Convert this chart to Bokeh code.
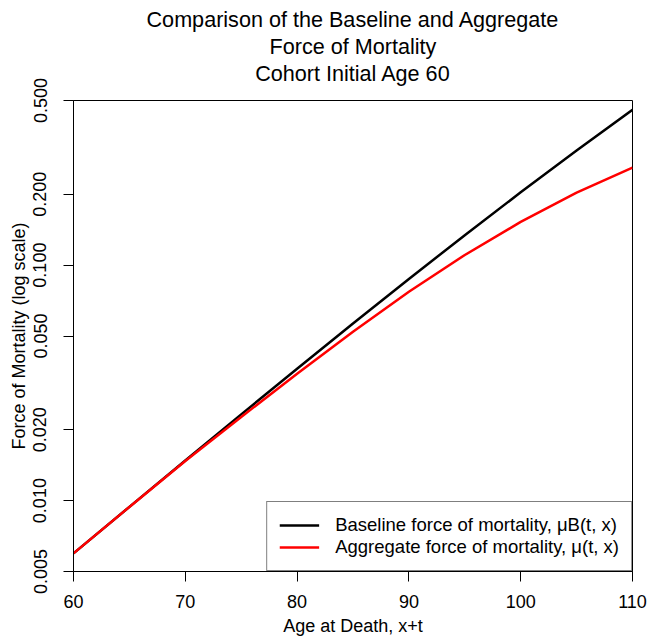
from bokeh.plotting import figure
from bokeh.models import Range1d, FixedTicker, CustomJSTickFormatter, Title, Legend, LegendItem
from bokeh.embed import file_html
from bokeh.resources import INLINE

ages = [60, 65, 70, 75, 80, 85, 90, 95, 100, 105, 110]
baseline = [0.00597, 0.009406, 0.01481, 0.02323, 0.03631, 0.05649, 0.08735, 0.1340, 0.2037, 0.3067, 0.4564]
aggregate = [0.00597, 0.009401, 0.01474, 0.02265, 0.03459, 0.05212, 0.07709, 0.1104, 0.1525, 0.2030, 0.2592]
x_ticks = [60, 70, 80, 90, 100, 110]
y_ticks = [0.005, 0.01, 0.02, 0.05, 0.1, 0.2, 0.5]
title_lines = ["Comparison of the Baseline and Aggregate", "Force of Mortality", "Cohort Initial Age 60"]
legend_labels = ["Baseline force of mortality, \u03bcB(t, x)", "Aggregate force of mortality, \u03bc(t, x)"]

FONT = "Liberation Sans"

p = figure(width=648, height=639, y_axis_type="log", output_backend="svg",
           toolbar_location=None, x_range=Range1d(60, 110), y_range=Range1d(0.005, 0.5),
           min_border_left=73, min_border_right=16, min_border_top=100, min_border_bottom=68,
           title=None)
p.background_fill_color = "white"
p.border_fill_color = "white"
p.outline_line_color = "black"
p.outline_line_width = 1
p.xgrid.visible = False
p.ygrid.visible = False

# spacer closest to the frame, then title lines outward
p.add_layout(Title(text=" ", text_font_size="1px", standoff=12), "above")
for line in reversed(title_lines):
    p.add_layout(Title(text=line, align="center", text_font=FONT, text_font_size="21.6px",
                       text_font_style="normal", text_color="black", standoff=0), "above")

r1 = p.line(ages, baseline, line_color="black", line_width=2.5)
r2 = p.line(ages, aggregate, line_color="#ff0000", line_width=2.5)

for ax in (p.xaxis[0], p.yaxis[0]):
    ax.axis_line_color = "black"
    ax.major_tick_line_color = "black"
    ax.major_tick_in = 0
    ax.major_tick_out = 10
    ax.minor_tick_line_color = None
    ax.major_label_text_font = FONT
    ax.major_label_text_font_size = "18px"
    ax.major_label_text_color = "black"
    ax.axis_label_text_font = FONT
    ax.axis_label_text_font_size = "18px"
    ax.axis_label_text_font_style = "normal"
    ax.axis_label_text_color = "black"

p.xaxis.ticker = FixedTicker(ticks=x_ticks)
p.yaxis.ticker = FixedTicker(ticks=y_ticks)
p.yaxis.formatter = CustomJSTickFormatter(code="return tick.toFixed(3);")
p.yaxis.major_label_orientation = "vertical"
p.xaxis.axis_label = "Age at Death, x+t"
p.yaxis.axis_label = "Force of Mortality (log scale)"
p.xaxis.major_label_standoff = 13
p.yaxis.major_label_standoff = 17
p.xaxis.axis_label_standoff = 5
p.yaxis.axis_label_standoff = 2

legend = Legend(items=[LegendItem(label=legend_labels[0], renderers=[r1]),
                       LegendItem(label=legend_labels[1], renderers=[r2])],
                location="bottom_right", margin=0, padding=12, spacing=0,
                glyph_width=40, glyph_height=20, label_height=20, label_standoff=16,
                label_text_font=FONT, label_text_font_size="18.5px", label_text_color="black",
                border_line_color="black", border_line_width=1,
                background_fill_color="white", background_fill_alpha=1.0)
p.add_layout(legend, "center")

open("out.html", "w").write(file_html(p, INLINE))
